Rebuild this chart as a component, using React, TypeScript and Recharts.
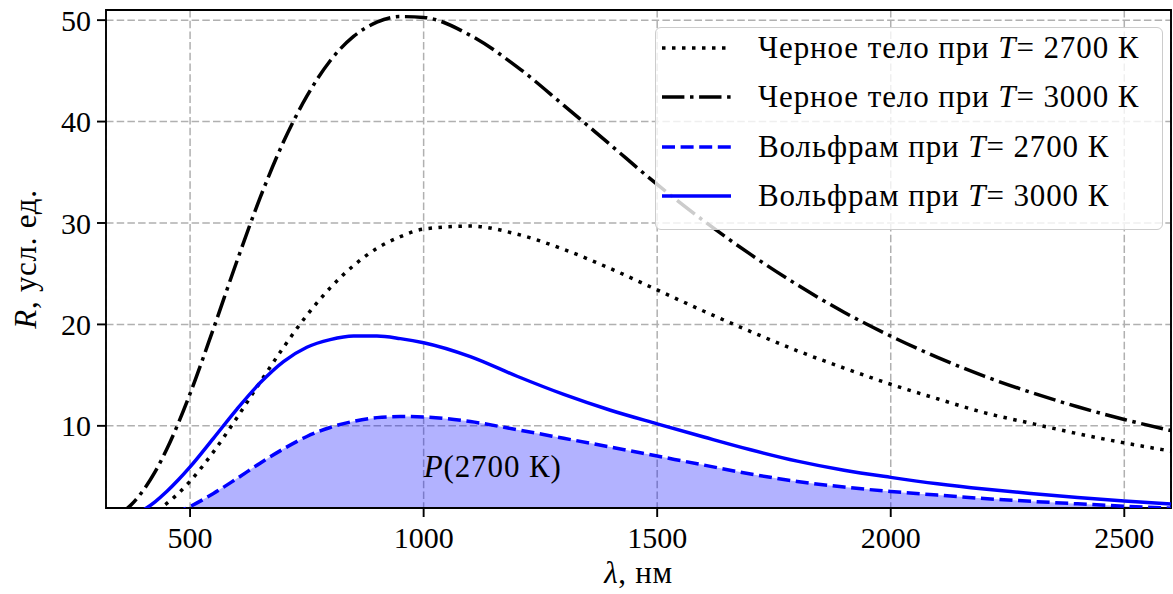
import React from 'react';
import {
  ComposedChart,
  Line,
  Area,
  XAxis,
  YAxis,
  CartesianGrid,
  ReferenceArea,
  ReferenceDot,
} from 'recharts';

// Wavelength grid, nm
const wavelengths = [
  350, 375, 400, 425, 450, 475, 500, 550, 600, 650, 700, 750, 800, 850, 900, 950,
  1000, 1100, 1200, 1300, 1400, 1500, 1600, 1700, 1800, 1900, 2000, 2100, 2200,
  2300, 2400, 2500, 2600,
];

// Black body, T = 2700 K
const blackBody2700 = [
  0.28, 0.55, 0.97, 1.56, 2.35, 3.35, 4.54, 7.43, 10.78, 14.3, 17.74, 20.9, 23.6,
  25.8, 27.5, 28.65, 29.4, 29.7, 28.9, 27.4, 25.5, 23.4, 21.3, 19.3, 17.4, 15.7,
  14.1, 12.67, 11.3, 10.25, 9.23, 8.32, 7.51,
];

// Black body, T = 3000 K
const blackBody3000 = [
  1.29, 2.27, 3.66, 5.46, 7.69, 10.28, 13.17, 19.58, 26.2, 32.5, 38.0, 42.5, 46.0,
  48.4, 49.8, 50.35, 50.27, 48.5, 45.4, 41.6, 37.7, 33.8, 30.2, 26.9, 23.9, 21.2,
  18.85, 16.75, 14.9, 13.3, 11.88, 10.63, 9.53,
];

// Tungsten, T = 2700 K
const tungsten2700 = [
  0.13, 0.26, 0.45, 0.72, 1.08, 1.52, 2.05, 3.33, 4.8, 6.32, 7.73, 8.95, 9.84,
  10.45, 10.81, 10.92, 10.88, 10.42, 9.62, 8.77, 7.91, 7.02, 6.13, 5.25, 4.52,
  3.96, 3.53, 3.17, 2.83, 2.56, 2.31, 2.08, 1.88,
];

// Tungsten, T = 3000 K
const tungsten3000 = [
  0.61, 1.07, 1.7, 2.51, 3.52, 4.68, 5.95, 8.77, 11.63, 14.24, 16.34, 17.75, 18.5,
  18.85, 18.85, 18.6, 18.2, 16.83, 14.89, 13.1, 11.54, 10.2, 8.9, 7.64, 6.52,
  5.62, 4.92, 4.29, 3.77, 3.33, 2.93, 2.59, 2.3,
];

const xTicks = [500, 1000, 1500, 2000, 2500];
const yTicks = [10, 20, 30, 40, 50];
const xDomain = [320, 2600];
const yDomain = [1.9, 51];

const legendLabels = [
  { prefix: 'Черное тело при ', temp: '2700 К' },
  { prefix: 'Черное тело при ', temp: '3000 К' },
  { prefix: 'Вольфрам при ', temp: '2700 К' },
  { prefix: 'Вольфрам при ', temp: '3000 К' },
];

const data = wavelengths.map((w, i) => ({
  w,
  bb2700: blackBody2700[i],
  bb3000: blackBody3000[i],
  w2700: tungsten2700[i],
  w3000: tungsten3000[i],
}));

const FONT = '"Liberation Serif", "Times New Roman", serif';
const TICK_FS = 30;
const FS = 31;
const LW = 3.5;

const seriesStyles = [
  { key: 'bb2700', color: '#000000', dash: '3.5 6.5' },
  { key: 'bb3000', color: '#000000', dash: '22.4 5.6 3.5 5.6' },
  { key: 'w2700', color: '#0000ff', dash: '13 5.6' },
  { key: 'w3000', color: '#0000ff', dash: undefined as string | undefined },
];

const XLabel = (props: any) => {
  const vb = props.viewBox || { x: 106, y: 508, width: 1065, height: 86 };
  const cx = vb.x + vb.width / 2;
  return (
    <text
      x={cx}
      y={vb.y + 75}
      textAnchor="middle"
      fontFamily={FONT}
      fontSize={FS}
      letterSpacing={0.7}
      fill="#000"
    >
      <tspan fontStyle="italic">λ</tspan>
      <tspan>, нм</tspan>
    </text>
  );
};

const YLabel = (props: any) => {
  const vb = props.viewBox || { x: 8, y: 10, width: 98, height: 498 };
  const cy = vb.y + vb.height / 2;
  const x = 36;
  return (
    <text
      x={x}
      y={cy}
      textAnchor="middle"
      transform={`rotate(-90, ${x}, ${cy})`}
      fontFamily={FONT}
      fontSize={FS}
      letterSpacing={0.7}
      fill="#000"
    >
      <tspan fontStyle="italic">R</tspan>
      <tspan>, усл. ед.</tspan>
    </text>
  );
};

const PLabel = (p: any) => (
  <text x={p.cx} y={p.cy} fontFamily={FONT} fontSize={FS} letterSpacing={0.9} fill="#000">
    <tspan fontStyle="italic">P</tspan>
    <tspan>(2700 К)</tspan>
  </text>
);

const LegendBox = () => (
  <div
    style={{
      position: 'absolute',
      left: 655,
      top: 27,
      width: 508,
      height: 203,
      boxSizing: 'border-box',
      border: '1.5px solid #cccccc',
      borderRadius: 6,
      background: 'rgba(255,255,255,0.8)',
      fontFamily: FONT,
      fontSize: FS,
      letterSpacing: 0.9,
      color: '#000',
    }}
  >
    {legendLabels.map((l, i) => {
      const s = seriesStyles[i];
      const center = 20 + 49.3 * i;
      return (
        <div
          key={i}
          style={{
            position: 'absolute',
            left: 0,
            top: center - 20,
            height: 40,
            width: '100%',
            whiteSpace: 'nowrap',
          }}
        >
          <svg width={72} height={10} style={{ position: 'absolute', left: 6, top: 15 }}>
            <line
              x1={0}
              y1={5}
              x2={69}
              y2={5}
              stroke={s.color}
              strokeWidth={LW}
              strokeDasharray={s.dash}
            />
          </svg>
          <span style={{ position: 'absolute', left: 102, top: 0, lineHeight: '40px' }}>
            {l.prefix}
            <i>T</i>= {l.temp}
          </span>
        </div>
      );
    })}
  </div>
);

export default function App() {
  return (
    <div style={{ position: 'absolute', left: 0, top: 0, width: 1173, height: 594 }}>
      <ComposedChart
        width={1173}
        height={594}
        data={data}
        margin={{ top: 10, right: 2, bottom: 0, left: 8 }}
      >
        <CartesianGrid stroke="#b0b0b0" strokeDasharray="7.5 3.2" strokeWidth={1.5} />
        <XAxis
          dataKey="w"
          type="number"
          domain={xDomain}
          ticks={xTicks}
          interval={0}
          allowDataOverflow
          height={86}
          tickSize={9}
          tickMargin={10}
          axisLine={false}
          tickLine={{ stroke: '#000', strokeWidth: 1.9 }}
          tick={{ fill: '#000', fontSize: TICK_FS, fontFamily: FONT }}
          label={{ content: XLabel }}
        />
        <YAxis
          type="number"
          domain={yDomain}
          ticks={yTicks}
          interval={0}
          allowDataOverflow
          width={98}
          tickSize={9}
          tickMargin={6}
          axisLine={false}
          tickLine={{ stroke: '#000', strokeWidth: 1.9 }}
          tick={{ fill: '#000', fontSize: TICK_FS, fontFamily: FONT }}
          label={{ content: YLabel }}
        />
        <Area
          dataKey="w2700"
          type="monotone"
          stroke="none"
          fill="#0000ff"
          fillOpacity={0.3}
          dot={false}
          activeDot={false}
          isAnimationActive={false}
        />
        {seriesStyles.map((s) => (
          <Line
            key={s.key}
            dataKey={s.key}
            type="monotone"
            stroke={s.color}
            strokeWidth={LW}
            strokeDasharray={s.dash}
            dot={false}
            activeDot={false}
            isAnimationActive={false}
          />
        ))}
        <ReferenceDot x={1000} y={5} r={0} ifOverflow="visible" shape={PLabel} />
        <ReferenceArea
          x1={xDomain[0]}
          x2={xDomain[1]}
          y1={yDomain[0]}
          y2={yDomain[1]}
          fill="none"
          stroke="#000"
          strokeWidth={1.9}
          ifOverflow="visible"
        />
      </ComposedChart>
      <LegendBox />
    </div>
  );
}
